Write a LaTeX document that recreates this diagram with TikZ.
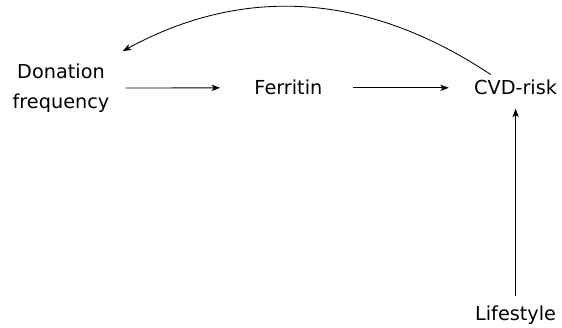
\documentclass[tikz,border=0pt]{standalone}
\usepackage{fontspec}
\setmainfont{DejaVu Sans}
\usetikzlibrary{arrows.meta}
\begin{document}
\begin{tikzpicture}[>={Stealth[length=6pt,width=4.5pt,inset=1.5pt]}, line width=0.6pt,
  every node/.style={inner sep=0pt, font=\fontsize{13.7}{21}\selectfont}]
\useasboundingbox (0,0) rectangle (14.05,-8.2);

\node[align=center] (don) at (1.525,-2.2) {Donation\\frequency};
\node[anchor=base] (fer) at (7.21,-2.375) {Ferritin};
\node[anchor=base] (cvd) at (12.89,-2.375) {CVD-risk};
\node[anchor=base] (life) at (12.89,-8.0) {Lifestyle};

\draw[->, shorten <=0.4cm, shorten >=0.85cm] (don.east) -- (fer.west);
\draw[->, shorten <=0.75cm, shorten >=0.625cm] (fer.east) -- (cvd.west);
\draw[->, shorten <=0.225cm, shorten >=0.325cm] (life.north) -- (cvd.south);

% feedback
\draw[->] ([shift={(0.425,0.135)}]cvd.north west)
  .. controls +(-3.07,2.04) and +(3.05,1.66) .. ([shift={(0.325,0.31)}]don.north east);
\end{tikzpicture}
\end{document}
